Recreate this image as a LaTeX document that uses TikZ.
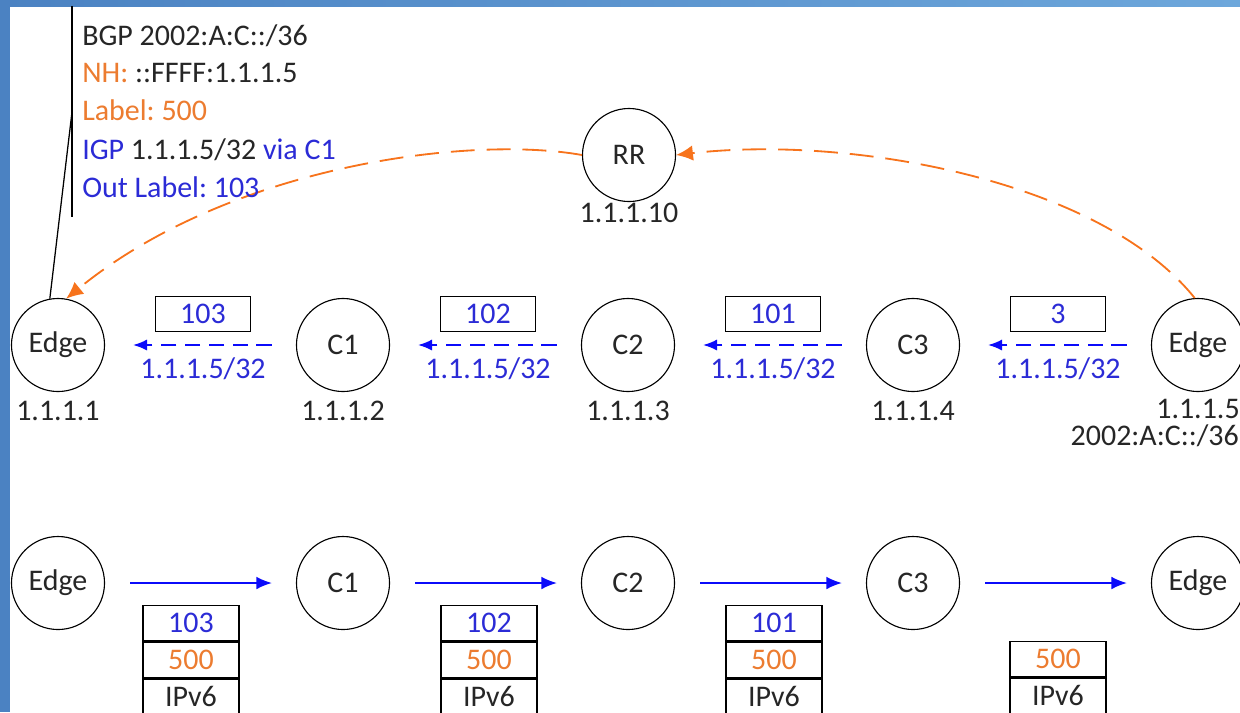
\documentclass[tikz,border=0pt]{standalone}
\usepackage{fontspec}
\setmainfont{Carlito}
\usetikzlibrary{arrows.meta,positioning}
\definecolor{frameA}{HTML}{4B82C2}
\definecolor{frameB}{HTML}{6DA7DB}
\definecolor{lblue}{HTML}{2B2BD6}
\definecolor{arrblue}{HTML}{0B0BFA}
\definecolor{lorange}{HTML}{EC7C30}
\definecolor{arrorange}{HTML}{F7731C}
\definecolor{txtgray}{HTML}{262626}
\frenchspacing

\begin{document}
\begin{tikzpicture}[x=0.025cm,y=-0.025cm,>=Latex,
  font=\fontsize{21.3}{26}\selectfont,text=txtgray,
  router/.style={circle,draw,line width=0.8pt,minimum size=2.325cm,inner sep=0pt},
  addr/.style={anchor=base,inner sep=0pt},
  lblbox/.style={draw,line width=0.9pt,minimum width=2.375cm,minimum height=0.875cm,inner sep=0pt,text=lblue},
  cell/.style={draw,line width=0.9pt,minimum width=2.4cm,minimum height=0.89cm,inner sep=0pt},
  adv/.style={->,arrblue,line width=1.2pt,dash pattern=on 11pt off 6pt,
    -{Latex[length=10pt,width=8pt]},shorten <=0.6cm,shorten >=0.7cm},
  fwd/.style={arrblue,line width=1.2pt,-{Latex[length=11pt,width=9pt]},
    shorten <=0.625cm,shorten >=0.6cm},
  bgp/.style={arrorange,line width=1.3pt,dash pattern=on 17pt off 8.5pt,
    -{Latex[length=12pt,width=11pt]}},
  callout/.style={anchor=base west,inner sep=0pt}]
\useasboundingbox (0,0) rectangle (1240,712);
% frame
\fill[left color=frameA,right color=frameB] (0,0) rectangle (1240,6);
\fill[frameA] (0,0) rectangle (10,712);

% control plane
\node[router] (rr) at (629,155) {RR};
\node[router] (edgeA) at (58,345) {Edge};
\node[router] (cA) at (343,345) {C1};
\node[router] (cB) at (628,345) {C2};
\node[router] (cC) at (913,345) {C3};
\node[router] (edgeB) at (1198,345) {Edge};
\node[addr] (iprr) at (629,222) {1.1.1.10};
\node[addr] (ipA) at (58,420) {1.1.1.1};
\node[addr] (ipB) at (343,420) {1.1.1.2};
\node[addr] (ipC) at (628,420) {1.1.1.3};
\node[addr] (ipD) at (913,420) {1.1.1.4};
\node[addr] (ipE) at (1198,418) {1.1.1.5};
\node[anchor=base east,inner sep=0pt] (pfx) at (1239,445) {2002:A:C::/36};

\node[lblbox] (lbA) at (203,314) {103};
\node[lblbox] (lbB) at (488,314) {102};
\node[lblbox] (lbC) at (773,314) {101};
\node[lblbox] (lbD) at (1058,314) {3};
\draw[adv] (cA) -- (edgeA);
\draw[adv] (cB) -- (cA);
\draw[adv] (cC) -- (cB);
\draw[adv] (edgeB) -- (cC);
\node[addr,text=lblue] (fecA) at (203,378) {1.1.1.5/32};
\node[addr,text=lblue] (fecB) at (488,378) {1.1.1.5/32};
\node[addr,text=lblue] (fecC) at (773,378) {1.1.1.5/32};
\node[addr,text=lblue] (fecD) at (1058,378) {1.1.1.5/32};

\draw[bgp] (rr.west) .. controls (470,135) and (230,165) .. (edgeA.80);
\draw[bgp] (edgeB.94) .. controls (1100,180) and (850,135) .. (rr.east);

% callout
\coordinate (calltop) at (72,6);
\coordinate (callbot) at (72,217);
\coordinate (callmid) at (72,112);
\draw[line width=0.9pt] (calltop) -- (callbot);
\draw[line width=0.9pt] (callmid) -- (edgeA.100);
\node[callout] (clA) at (82,45) {BGP 2002:A:C::/36};
\node[callout] (clB) at (82,82) {\textcolor{lorange}{NH:} ::FFFF:1.1.1.5};
\node[callout,text=lorange] (clC) at (82,120) {Label: 500};
\node[callout] (clD) at (82,159) {\textcolor{lblue}{IGP} 1.1.1.5/32 \textcolor{lblue}{via C1}};
\node[callout,text=lblue] (clE) at (82,197) {Out Label: 103};

% data plane
\node[router] (edgeAb) at (58,583) {Edge};
\node[router] (cAb) at (343,583) {C1};
\node[router] (cBb) at (628,583) {C2};
\node[router] (cCb) at (913,583) {C3};
\node[router] (edgeBb) at (1198,583) {Edge};
\draw[fwd] (edgeAb) -- (cAb);
\draw[fwd] (cAb) -- (cBb);
\draw[fwd] (cBb) -- (cCb);
\draw[fwd] (cCb) -- (edgeBb);

\node[cell,text=lblue] (stA1) at (191,623) {103};
\node[cell,text=lorange,below=0pt of stA1] (stA2) {500};
\node[cell,below=0pt of stA2] (stA3) {IPv6};
\node[cell,text=lblue] (stB1) at (489,623) {102};
\node[cell,text=lorange,below=0pt of stB1] (stB2) {500};
\node[cell,below=0pt of stB2] (stB3) {IPv6};
\node[cell,text=lblue] (stC1) at (774,623) {101};
\node[cell,text=lorange,below=0pt of stC1] (stC2) {500};
\node[cell,below=0pt of stC2] (stC3) {IPv6};
\node[cell,text=lorange] (stD2) at (1058,659) {500};
\node[cell,below=0pt of stD2] (stD3) {IPv6};
\end{tikzpicture}
\end{document}
